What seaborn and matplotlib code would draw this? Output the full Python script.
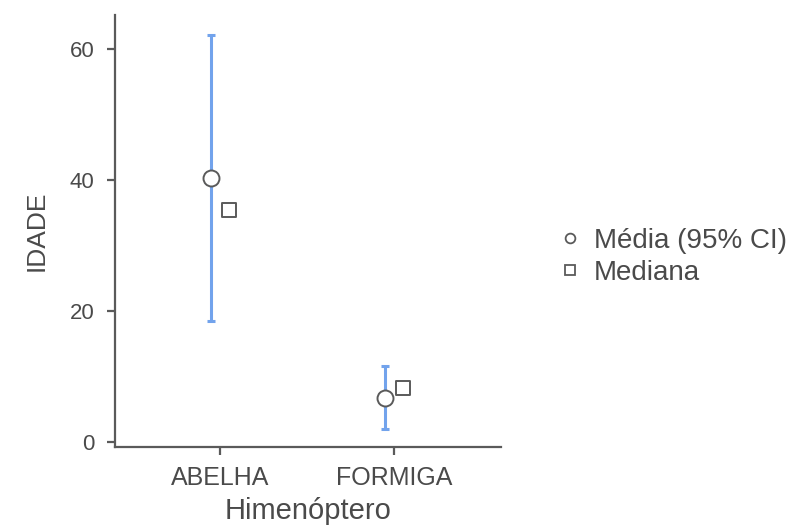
import numpy as np
import pandas as pd
import matplotlib
matplotlib.use("Agg")
import matplotlib.pyplot as plt
from matplotlib.lines import Line2D
import seaborn as sns

# ---- data ----
categories = ["ABELHA", "FORMIGA"]
mean_vals = [40.4, 6.8]
ci_low = [18.5, 2.0]
ci_high = [62.2, 11.6]
median_vals = [35.5, 8.2]
y_ticks = [0, 20, 40, 60]

sns.set_theme(style="ticks")
plt.rcParams["font.family"] = ["Liberation Sans", "DejaVu Sans"]

TXT = "#4a4a4a"
SPINE = "#5a5a5a"
BLUE = "#72a3ec"
EDGE = "#5a5a5a"

W, H = 798, 529
fig = plt.figure(figsize=(W / 100, H / 100), dpi=100)
ax = fig.add_axes([115 / W, 1 - 447 / H, (501 - 115) / W, (447 - 15) / H])

pos = np.arange(len(categories))
offset = 0.05
mean_arr = np.array(mean_vals)
yerr = [mean_arr - np.array(ci_low), np.array(ci_high) - mean_arr]

df_mean = pd.DataFrame({"x": pos - offset, "y": mean_vals})
df_med = pd.DataFrame({"x": pos + offset, "y": median_vals})

ax.errorbar(pos - offset, mean_arr, yerr=yerr, fmt="none", ecolor=BLUE,
            elinewidth=2.2, capsize=3, capthick=2.2, zorder=2)
sns.scatterplot(data=df_mean, x="x", y="y", marker="o", s=11.5 ** 2,
                color="white", edgecolor=EDGE, linewidth=1.4, zorder=3,
                ax=ax, legend=False)
sns.scatterplot(data=df_med, x="x", y="y", marker="s", s=9.5 ** 2,
                color="white", edgecolor=EDGE, linewidth=1.4, zorder=3,
                ax=ax, legend=False)

ax.set_xlim(-0.603, 1.615)
ax.set_ylim(-0.76, 65.24)
ax.set_xticks(pos)
ax.set_xticklabels(categories)
ax.set_yticks(y_ticks)

sns.despine(ax=ax)
for s in ["left", "bottom"]:
    ax.spines[s].set_color(SPINE)
    ax.spines[s].set_linewidth(1.6)
ax.tick_params(axis="both", length=5.8, width=1.6, color=SPINE, labelcolor=TXT)
ax.tick_params(axis="y", labelsize=16, pad=9)
ax.tick_params(axis="x", labelsize=18, pad=8)

ax.set_xlabel("Himenóptero", fontsize=21, color=TXT, labelpad=5)
ax.set_ylabel("IDADE", fontsize=19, color=TXT, labelpad=15)

handles = [
    Line2D([], [], linestyle="none", marker="o", markersize=7,
           markerfacecolor="white", markeredgecolor=EDGE, markeredgewidth=1.3),
    Line2D([], [], linestyle="none", marker="s", markersize=6.5,
           markerfacecolor="white", markeredgecolor=EDGE, markeredgewidth=1.3),
]
leg = fig.legend(handles, ["Média (95% CI)", "Mediana"], loc="upper left",
                 bbox_to_anchor=(559 / W, 1 - 228 / H), frameon=False,
                 fontsize=20, handlelength=0.8, handletextpad=0.45,
                 labelspacing=0.22, borderaxespad=0, borderpad=0)
for t in leg.get_texts():
    t.set_color(TXT)

fig.savefig("out.png", dpi=100)
